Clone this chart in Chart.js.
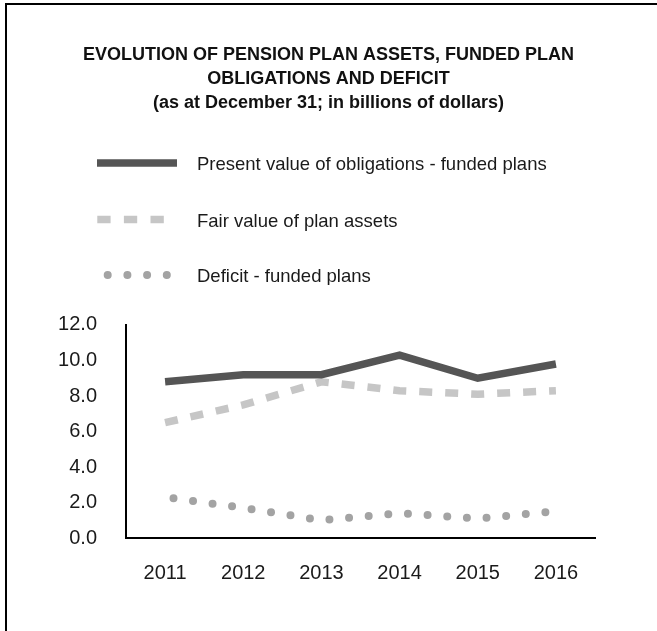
<!DOCTYPE html>
<html>
<head>
<meta charset="utf-8">
<script src="https://cdn.jsdelivr.net/npm/chart.js@4/dist/chart.umd.min.js"></script>
<style>
    html, body { margin: 0; padding: 0; background: #fff; }
    #quadro { position: relative; width: 657px; height: 631px; overflow: hidden; }
    #moldura { position: absolute; left: 5px; top: 3px; right: -10px; bottom: -10px; border-left: 2px solid #000; border-top: 2px solid #000; pointer-events: none; }
    #myChart { position: absolute; left: 0; top: 0; }
</style>
</head>
<body>
<div id="quadro">
    <canvas id="myChart" width="657" height="631"></canvas>
    <div id="moldura"></div>
</div>
<script>
// dados (bilhoes de dolares, em 31 de dezembro)
const anos = ['2011', '2012', '2013', '2014', '2015', '2016'];
const obrigacoes = [8.8, 9.2, 9.2, 10.3, 9.0, 9.8];
const ativos = [6.5, 7.5, 8.8, 8.3, 8.1, 8.3];
const deficit = [2.3, 1.7, 1.0, 1.4, 1.1, 1.5];
const marcasY = [0, 2, 4, 6, 8, 10, 12];

const titulo = [
    'EVOLUTION OF PENSION PLAN ASSETS, FUNDED PLAN',
    'OBLIGATIONS AND DEFICIT',
    '(as at December 31; in billions of dollars)'
];
const nomes = [
    'Present value of obligations - funded plans',
    'Fair value of plan assets',
    'Deficit - funded plans'
];

const FONTE = "'Liberation Sans', Arial, sans-serif";

// legenda vertical, um item por linha
const legendaVertical = {
    id: 'legendaVertical',
    afterDraw: function (chart) {
        const ctx = chart.ctx;
        const linhas = [163, 219.5, 275];
        ctx.save();
        ctx.beginPath();
        ctx.rect(0, 0, chart.width, 285);
        ctx.clip();
        chart.data.datasets.forEach(function (ds, i) {
            const y = linhas[i];
            ctx.save();
            ctx.strokeStyle = ds.borderColor;
            ctx.lineWidth = ds.borderWidth;
            ctx.lineCap = ds.borderCapStyle || 'butt';
            ctx.setLineDash(ds.borderDash || []);
            ctx.beginPath();
            if (i == 0) {
                ctx.moveTo(97, y); ctx.lineTo(177, y);
            } else if (i == 1) {
                ctx.setLineDash([13.3, 13.3]);
                ctx.moveTo(97.3, y); ctx.lineTo(164, y);
            } else {
                ctx.moveTo(107.7, y); ctx.lineTo(170, y);
            }
            ctx.stroke();
            ctx.restore();

            ctx.fillStyle = '#1a1a1a';
            ctx.font = '18.5px ' + FONTE;
            ctx.textBaseline = 'middle';
            ctx.textAlign = 'left';
            ctx.fillText(ds.label, 197, y + 2);
        });
        ctx.restore();
    }
};

let dados = {
    labels: anos,
    datasets: [{
        label: nomes[0],
        data: obrigacoes,
        borderColor: '#555555',
        borderWidth: 7.5,
        borderCapStyle: 'butt',
        borderJoinStyle: 'miter'
    }, {
        label: nomes[1],
        data: ativos,
        borderColor: '#c6c6c6',
        borderWidth: 7.5,
        borderDash: [13, 13],
        borderCapStyle: 'butt'
    }, {
        label: nomes[2],
        data: deficit,
        borderColor: '#a3a3a3',
        borderWidth: 8,
        borderDash: [0, 19.7],
        borderDashOffset: 11.2,
        borderCapStyle: 'round'
    }]
};

let options = {
    responsive: false,
    animation: false,
    layout: {
        padding: { left: 31, right: 31, top: 0, bottom: 23 }
    },
    elements: {
        point: { radius: 0, hoverRadius: 0 },
        line: { tension: 0, fill: false }
    },
    plugins: {
        legend: { display: false },
        tooltip: { enabled: false },
        title: {
            display: true,
            text: titulo,
            color: '#111',
            font: { family: FONTE, size: 18, weight: 'bold', lineHeight: 1.333 },
            padding: { top: 43, bottom: 210 }
        }
    },
    scales: {
        x: {
            offset: true,
            grid: { display: false, drawTicks: false },
            border: { display: true, color: '#000', width: 2 },
            ticks: {
                color: '#1a1a1a',
                padding: 23,
                font: { family: FONTE, size: 20 },
                maxRotation: 0
            }
        },
        y: {
            min: 0,
            max: 12,
            afterFit: function (scale) { scale.width = 95; },
            afterBuildTicks: function (scale) {
                scale.ticks = marcasY.map(function (v) { return { value: v }; });
            },
            grid: { display: false, drawTicks: false },
            border: { display: true, color: '#000', width: 2 },
            ticks: {
                color: '#1a1a1a',
                padding: 29,
                font: { family: FONTE, size: 20 },
                callback: function (v) { return Number(v).toFixed(1); }
            }
        },
        // margem vazia a direita do grafico
        margemDir: {
            position: 'right',
            grid: { display: false, drawTicks: false },
            border: { display: false },
            ticks: { display: false },
            afterFit: function (scale) { scale.width = 31; }
        }
    }
};

let config = {
    type: 'line',
    data: dados,
    options: options,
    plugins: [legendaVertical]
};
let myChart = new Chart(document.getElementById('myChart'), config);
</script>
</body>
</html>
